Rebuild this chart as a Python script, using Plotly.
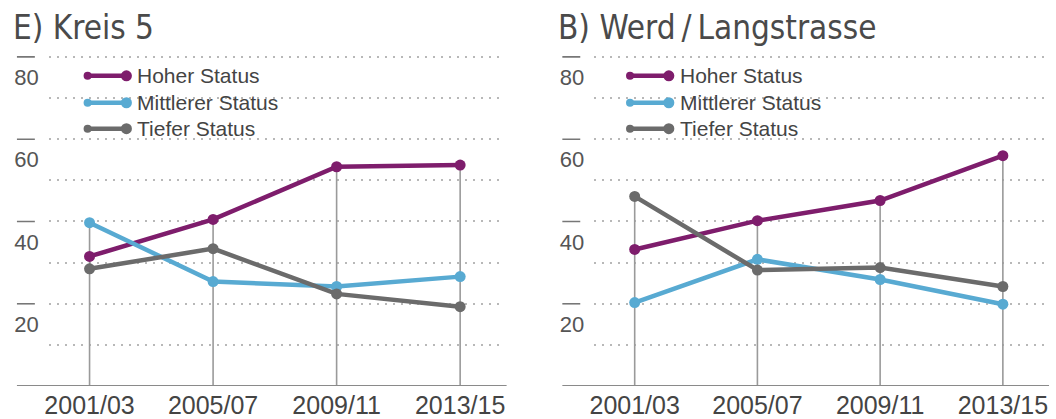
import plotly.graph_objects as go

W, H = 1056, 419

categories = ["2001/03", "2005/07", "2009/11", "2013/15"]
series_names = ["Hoher Status", "Mittlerer Status", "Tiefer Status"]
colors = ["#7e1d6c", "#58aad2", "#6b6b6b"]

# Panel E) Kreis 5
kreis5_hoher = [31.5, 40.5, 53.3, 53.7]
kreis5_mittlerer = [39.7, 25.4, 24.2, 26.6]
kreis5_tiefer = [28.5, 33.4, 22.4, 19.3]

# Panel B) Werd / Langstrasse
werd_hoher = [33.2, 40.2, 45.1, 56.0]
werd_mittlerer = [20.3, 30.8, 25.9, 19.9]
werd_tiefer = [46.1, 28.2, 28.8, 24.2]

titles = ["E) Kreis 5", "B) Werd\u2009/\u2009Langstrasse"]
ytick_labels = ["80", "60", "40", "20"]
ytick_values = [80, 60, 40, 20]

panels = [
    [kreis5_hoher, kreis5_mittlerer, kreis5_tiefer],
    [werd_hoher, werd_mittlerer, werd_tiefer],
]


def px(x):
    return x / W


def py(y):
    return (H - y) / H


x_domains = [[px(45), px(503)], [px(593), px(1048)]]
y_domain = [py(387), py(36.4)]
x_range = [-0.33, 3.36]
y_range = [0, 85]

fig = go.Figure()
shapes = []
annotations = []

text_font = "Liberation Sans, Arial, sans-serif"
title_font = "DejaVu Sans Condensed, Liberation Sans Narrow, sans-serif"

for p, data in enumerate(panels):
    sfx = "" if p == 0 else str(p + 1)
    xa, ya = "x" + sfx, "y" + sfx
    # drop lines from baseline to highest point at each category
    for i, cat in enumerate(categories):
        top = max(s[i] for s in data)
        fig.add_trace(go.Scatter(
            x=[cat, cat], y=[0, top], mode="lines",
            line=dict(color="#9a9a9a", width=1.6),
            xaxis=xa, yaxis=ya, showlegend=False, hoverinfo="skip"))
    for k, vals in enumerate(data):
        fig.add_trace(go.Scatter(
            x=categories, y=vals, mode="lines+markers", name=series_names[k],
            line=dict(color=colors[k], width=4.5),
            marker=dict(color=colors[k], size=11),
            xaxis=xa, yaxis=ya, showlegend=False))

    dom = x_domains[p]
    fig.layout["xaxis" + sfx] = dict(
        domain=dom, range=x_range, type="category",
        categoryorder="array", categoryarray=categories,
        showgrid=False, zeroline=False, showline=False, ticks="",
        ticklabelstandoff=2,
        tickfont=dict(family=text_font, size=25, color="#444"),
        anchor=ya, fixedrange=True,
    )
    fig.layout["yaxis" + sfx] = dict(
        domain=y_domain, range=y_range,
        tickmode="array", tickvals=[v - 5 for v in ytick_values], ticktext=ytick_labels,
        showgrid=False, zeroline=False, showline=False, ticks="",
        ticklabelstandoff=9,
        tickfont=dict(family=text_font, size=22, color="#555"),
        minor=dict(tickmode="linear", tick0=0, dtick=10, showgrid=True,
                   gridcolor="#b8b8b8", gridwidth=1.6, griddash="2px,6px", ticks=""),
        anchor=xa, fixedrange=True,
    )

    # baseline
    left_px = dom[0] * W - 32
    shapes.append(dict(type="line", xref="paper", yref=ya, x0=left_px / W, x1=dom[1] + 2 / W,
                       y0=0, y1=0, line=dict(color="#8a8a8a", width=2.2), layer="above"))
    # small tick dashes at labelled gridlines
    for v in ytick_values:
        shapes.append(dict(type="line", xref="paper", yref=ya, x0=left_px / W, x1=(left_px + 18) / W,
                           y0=v, y1=v, line=dict(color="#777", width=1.6)))

    # title
    annotations.append(dict(text=titles[p], xref="paper", yref="paper",
                            x=(left_px - 6) / W, y=py(28), xanchor="left", yanchor="middle",
                            showarrow=False,
                            font=dict(family=title_font, size=33, color="#4a4a4a")))

    # custom legend (white box, dumbbell lines, text)
    lx0 = dom[0] * W + (38 if p == 0 else 35)
    shapes.append(dict(type="rect", xref="paper", yref="paper",
                       x0=(lx0 - 8) / W, x1=(lx0 + 202) / W, y0=py(140), y1=py(63),
                       fillcolor="white", line=dict(width=0), layer="between"))
    rows = [76, 103, 129]
    for k in range(3):
        yy = py(rows[k])
        shapes.append(dict(type="line", xref="paper", yref="paper",
                           x0=lx0 / W, x1=(lx0 + 41) / W, y0=yy, y1=yy,
                           line=dict(color=colors[k], width=4.5), layer="above"))
        for cx, r in [(lx0 + 1, 4), (lx0 + 40, 5.5)]:
            shapes.append(dict(type="circle", xref="paper", yref="paper",
                               xsizemode="pixel", ysizemode="pixel",
                               xanchor=cx / W, yanchor=yy,
                               x0=-r, x1=r, y0=-r, y1=r,
                               fillcolor=colors[k], line=dict(width=0), layer="above"))
        annotations.append(dict(text=series_names[k], xref="paper", yref="paper",
                                x=(lx0 + 49) / W, y=yy, xanchor="left", yanchor="middle",
                                showarrow=False,
                                font=dict(family=text_font, size=21, color="#444")))

fig.update_layout(
    width=W, height=H,
    margin=dict(l=0, r=0, t=0, b=0),
    paper_bgcolor="white", plot_bgcolor="white",
    shapes=shapes, annotations=annotations,
    showlegend=False,
)

fig.write_html("out.html", config={"displayModeBar": False},
               post_script="document.body.style.margin='0';")
